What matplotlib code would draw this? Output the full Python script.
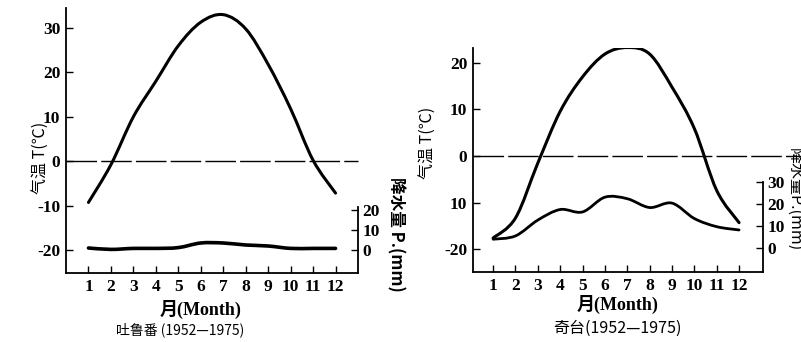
import matplotlib
matplotlib.use("Agg")
import matplotlib.pyplot as plt
from matplotlib.path import Path
from matplotlib.patches import PathPatch

months = list(range(1, 13))
month_labels = [str(m) for m in months]

# Turpan (吐鲁番)
temp_turpan = [-9.3, -0.8, 10.0, 18.0, 26.0, 31.3, 33.0, 29.8, 21.8, 11.8, 0.2, -7.2]
prec_turpan = [1.0, 0.3, 0.8, 0.8, 1.2, 3.5, 3.5, 2.5, 2.0, 0.8, 0.8, 0.8]
# Qitai (奇台)
temp_qitai = [-17.6, -13.3, -1.5, 9.6, 17.0, 21.9, 23.3, 21.9, 14.8, 5.9, -7.4, -14.3]
prec_qitai = [4.0, 5.5, 12.7, 17.5, 16.4, 23.1, 22.4, 18.4, 20.4, 13.4, 9.7, 8.2]

t_ticks_turpan = [-20, -10, 0, 10, 20, 30]
t_labels_turpan = ['-20', '-10', '0', '10', '20', '30']
p_ticks_turpan = [0, 10, 20]
t_ticks_qitai = [-20, -10, 0, 10, 20]
t_labels_qitai = ['-20', '10', '0', '10', '20']
p_ticks_qitai = [0, 10, 20, 30]

SERIF = ['Liberation Serif', 'Noto Sans CJK SC']
CJK = ['Noto Sans CJK SC', 'Liberation Serif']
plt.rcParams['font.family'] = SERIF

W, H = 801, 342
fig = plt.figure(figsize=(W / 100, H / 100), dpi=100)


def frac_rect(x0, y0, x1, y1):
    return [x0 / W, 1 - y1 / H, (x1 - x0) / W, (y1 - y0) / H]


def smooth_line(ax, xs, ys, lw):
    """Draw a smooth curve passing through the data points (cubic Bezier)."""
    n = len(xs)
    verts = [(xs[0], ys[0])]
    codes = [Path.MOVETO]
    for i in range(n - 1):
        x0, y0 = xs[max(i - 1, 0)], ys[max(i - 1, 0)]
        x1, y1 = xs[i], ys[i]
        x2, y2 = xs[i + 1], ys[i + 1]
        x3, y3 = xs[min(i + 2, n - 1)], ys[min(i + 2, n - 1)]
        c1 = (x1 + (x2 - x0) / 6.0, y1 + (y2 - y0) / 6.0)
        c2 = (x2 - (x3 - x1) / 6.0, y2 - (y3 - y1) / 6.0)
        verts += [c1, c2, (x2, y2)]
        codes += [Path.CURVE4] * 3
    patch = PathPatch(Path(verts, codes), facecolor='none', edgecolor='black',
                      lw=lw, capstyle='round', joinstyle='round')
    ax.add_patch(patch)


def panel(rect, xlim, tlim, plim, temp, prec, tticks, tlabels, pticks, pbound,
          zline_xmax, plw):
    ax = fig.add_axes(rect)
    ax.set_xlim(*xlim)
    ax.set_ylim(*tlim)
    for s in ['top', 'right']:
        ax.spines[s].set_visible(False)
    for s in ['left', 'bottom']:
        ax.spines[s].set_linewidth(1.3)
    ax.set_xticks(months)
    ax.set_xticklabels(month_labels)
    ax.set_yticks(tticks)
    ax.set_yticklabels(tlabels)
    ax.tick_params(axis='both', direction='in', length=5, width=1.0,
                   labelsize=12.5, pad=4)
    for lab in ax.get_xticklabels() + ax.get_yticklabels():
        lab.set_fontweight('bold')
    ax.axhline(0, 0, zline_xmax, color='black', lw=1.0,
               linestyle=(0, (22, 3)), clip_on=False)
    smooth_line(ax, months, temp, 2.2)

    ax2 = ax.twinx()
    ax2.set_ylim(*plim)
    for s in ['top', 'left', 'bottom']:
        ax2.spines[s].set_visible(False)
    ax2.spines['right'].set_linewidth(1.3)
    ax2.spines['right'].set_bounds(plim[0], pbound)
    ax2.set_yticks(pticks)
    ax2.set_yticklabels([str(p) for p in pticks])
    ax2.tick_params(axis='y', direction='in', length=5, width=1.0,
                    labelsize=12.5, pad=3)
    for lab in ax2.get_yticklabels():
        lab.set_fontweight('bold')
    smooth_line(ax2, months, prec, plw)
    return ax, ax2


# Left panel: Turpan
panel(frac_rect(66, 8, 358, 273), (0, 13), (-25.2, 34.5), (-11.5, 121.0),
      temp_turpan, prec_turpan, t_ticks_turpan, t_labels_turpan,
      p_ticks_turpan, 21.5, 1.0, 2.6)
# Right panel: Qitai
panel(frac_rect(473, 48, 763, 272), (0.1, 13.07), (-24.9, 23.2), (-10.9, 90.9),
      temp_qitai, prec_qitai, t_ticks_qitai, t_labels_qitai,
      p_ticks_qitai, 30.0, 1.13, 2.0)


def ftext(x, y, s, **kw):
    fig.text(x / W, 1 - y / H, s, ha='center', va='center', **kw)


ftext(40, 158, '气温 T(℃)', rotation=90, fontsize=11.5, family=CJK)
ftext(396, 234, '降水量 P.(mm)', rotation=270, fontsize=12, fontweight='bold',
      family=CJK)
ftext(201, 309, '月(Month)', fontsize=13, fontweight='bold', family=SERIF)
ftext(180, 330, '吐鲁番 (1952—1975)', fontsize=10, family=CJK)

ftext(427, 143, '气温 T(℃)', rotation=90, fontsize=11.5, family=CJK)
ftext(794, 200, '降水量P.(mm)', rotation=270, fontsize=11.5, family=CJK)
ftext(618, 304, '月(Month)', fontsize=13, fontweight='bold', family=SERIF)
ftext(617, 328, '奇台(1952—1975)', fontsize=11.5, family=CJK)

fig.savefig('out.png', dpi=100)
